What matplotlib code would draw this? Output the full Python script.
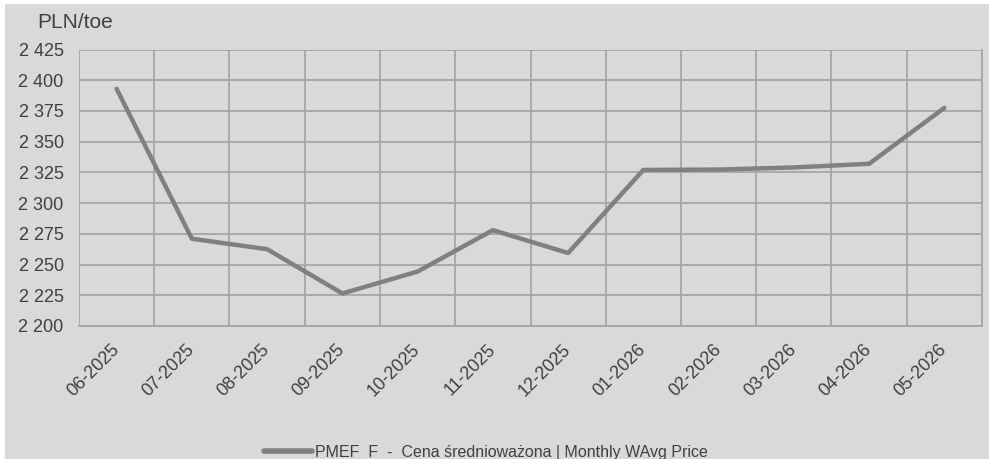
import matplotlib.pyplot as plt
from matplotlib.patches import Rectangle
from matplotlib.ticker import FuncFormatter, MultipleLocator
import numpy as np

plt.rcParams['font.family'] = ['Liberation Sans', 'DejaVu Sans']

months = ['06-2025', '07-2025', '08-2025', '09-2025', '10-2025', '11-2025',
          '12-2025', '01-2026', '02-2026', '03-2026', '04-2026', '05-2026']
price = [2393, 2271, 2262.5, 2226.5, 2244.3, 2278,
         2259.4, 2327, 2327.3, 2329, 2332, 2377.5]
series_name = 'PMEF_F  -  Cena średnioważona | Monthly WAvg Price'
unit_label = 'PLN/toe'

BG = '#d9d9d9'
GRID = '#a6a6a6'
LINE = '#808080'
TXT = '#404040'

fig = plt.figure(figsize=(9.89, 4.59), dpi=100, facecolor='white')
# grey chart area, white strip on top and left like the original
fig.patches.append(Rectangle((5 / 989, 0), 984 / 989, 455 / 459,
                             transform=fig.transFigure, facecolor=BG,
                             edgecolor='none', zorder=-10))

ax = fig.add_axes([79 / 989, 1 - 326 / 459, 903 / 989, 276.5 / 459])
ax.set_facecolor(BG)

x = np.arange(len(months))
ax.plot(x, price, color=LINE, linewidth=3.2, solid_capstyle='round',
        label=series_name, zorder=3)

ax.set_xlim(-0.5, len(months) - 0.5)
ax.set_ylim(2200, 2425)
ax.yaxis.set_major_locator(MultipleLocator(25))
ax.yaxis.set_major_formatter(FuncFormatter(lambda v, p: f'{int(v):,}'.replace(',', ' ')))

ax.set_xticks(x)
ax.set_xticklabels(months, rotation=45, ha='right', va='center',
                   rotation_mode='anchor')
ax.set_xticks(np.arange(-0.5, len(months), 1), minor=True)

ax.grid(True, axis='y', which='major', color=GRID, linewidth=1.3, zorder=1)
ax.grid(True, axis='x', which='minor', color=GRID, linewidth=1.3, zorder=1)
ax.tick_params(axis='both', which='both', length=0, labelsize=13, colors=TXT)
ax.tick_params(axis='y', pad=11)
ax.tick_params(axis='x', pad=15)

for s in ax.spines.values():
    s.set_color(GRID)
    s.set_linewidth(1.3)
ax.spines['top'].set_visible(False)
ax.spines['left'].set_visible(False)

fig.text(37 / 989, 1 - 23 / 459, unit_label, fontsize=15, color=TXT,
         ha='left', va='center')

leg = fig.legend(loc='center left', bbox_to_anchor=(256 / 989, 1 - 452 / 459),
                 frameon=False, fontsize=11.5, handlelength=3.0,
                 handletextpad=0.2, borderpad=0, labelcolor=TXT)
leg.get_lines()[0].set_linewidth(4)

fig.savefig('out.png', dpi=100, facecolor='white')
